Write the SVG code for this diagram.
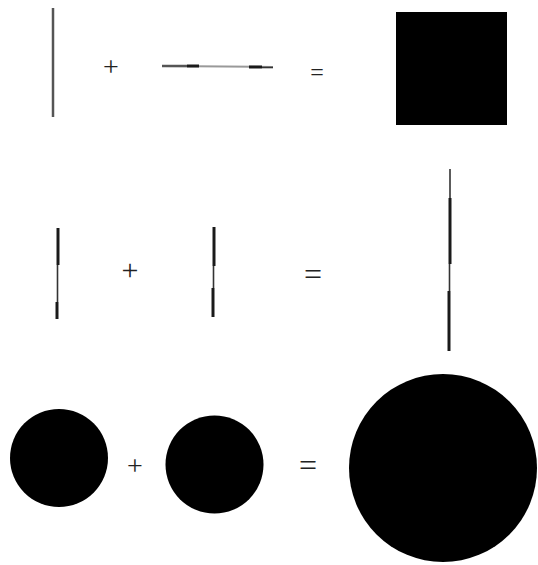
<svg xmlns="http://www.w3.org/2000/svg" width="538" height="565" viewBox="0 0 538 565">
<style>
.thk{stroke:#1a1a1a;stroke-width:3;fill:none}
.thn{stroke:#333;stroke-width:1.6;fill:none}
.gry{stroke:#555;stroke-width:2.5;fill:none}
.lgt{stroke:#999;stroke-width:2;fill:none}
.sh{fill:#000}
.op{font-family:"Liberation Serif","Times New Roman",serif;fill:#222;text-anchor:middle}
</style>
<rect width="538" height="565" fill="#fff"/>
<g id="row1">
<g id="r1-vline">
<line class="gry" x1="53" y1="8" x2="53" y2="117"/>
</g>
<text class="op" x="111" y="76" font-size="28">+</text>
<g id="r1-hline">
<line class="lgt" x1="162" y1="66" x2="273" y2="67"/>
<line class="gry" x1="162" y1="66" x2="187" y2="66"/>
<line class="thk" x1="187" y1="66" x2="199" y2="66"/>
<line class="thk" x1="249" y1="67" x2="262" y2="67"/>
<line class="thn" x1="262" y1="67.5" x2="273" y2="67.5"/>
</g>
<text class="op" x="317" y="80" font-size="24">=</text>
<rect id="r1-square" class="sh" x="396" y="12" width="111" height="113"/>
</g>
<g id="row2">
<g id="r2-line1">
<line class="thk" x1="58" y1="228" x2="58" y2="265"/>
<line class="thn" x1="57.5" y1="265" x2="57.5" y2="302"/>
<line class="thk" x1="57" y1="302" x2="57" y2="319"/>
</g>
<text class="op" x="130" y="280" font-size="30">+</text>
<g id="r2-line2">
<line class="thk" x1="214" y1="227" x2="214" y2="266"/>
<line class="thn" x1="213.5" y1="266" x2="213.5" y2="288"/>
<line class="thk" x1="213" y1="288" x2="213" y2="317"/>
</g>
<text class="op" x="313" y="285" font-size="32">=</text>
<g id="r2-line3">
<line class="thn" x1="450" y1="169" x2="450" y2="198"/>
<line class="thk" x1="450" y1="198" x2="450" y2="264"/>
<line class="thn" x1="449.5" y1="264" x2="449.5" y2="291"/>
<line class="thk" x1="449" y1="291" x2="449" y2="351"/>
</g>
</g>
<g id="row3">
<circle id="r3-c1" class="sh" cx="59" cy="458" r="49"/>
<text class="op" x="135" y="475" font-size="28">+</text>
<circle id="r3-c2" class="sh" cx="214.5" cy="464.5" r="49"/>
<text class="op" x="308" y="476" font-size="32">=</text>
<circle id="r3-c3" class="sh" cx="443" cy="468" r="94"/>
</g>
</svg>
